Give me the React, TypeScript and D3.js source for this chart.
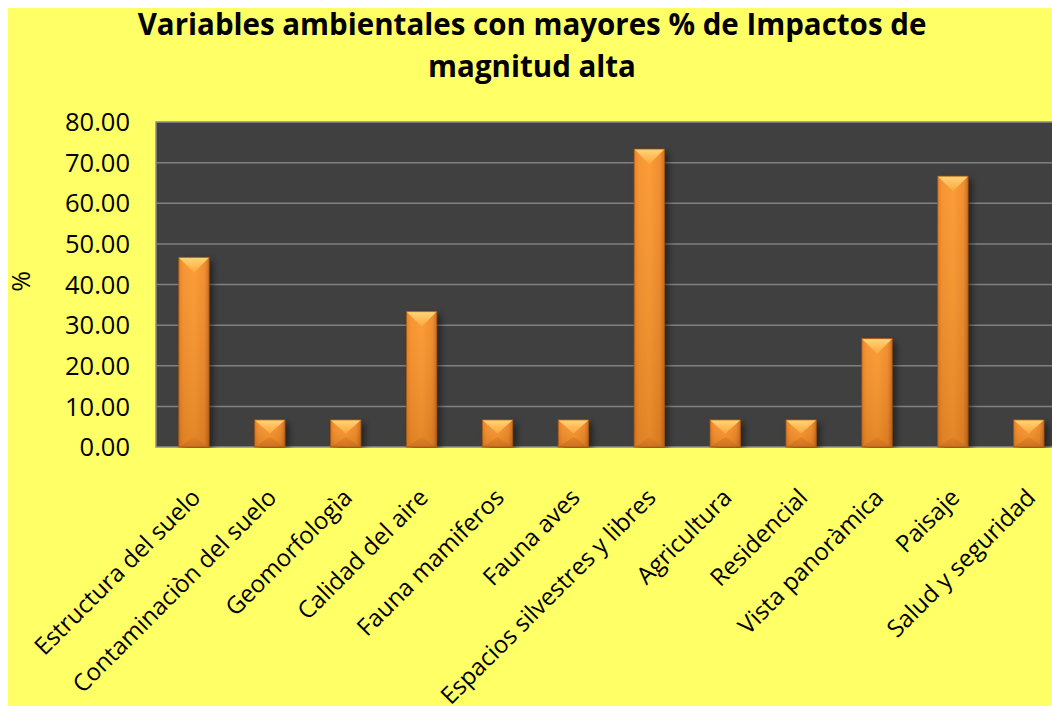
import React from 'react';
import * as d3 from 'd3';

const categories = [
  'Estructura del suelo',
  'Contaminaciòn del suelo',
  'Geomorfologìa',
  'Calidad del aire',
  'Fauna mamiferos',
  'Fauna aves',
  'Espacios silvestres y libres',
  'Agricultura',
  'Residencial',
  'Vista panoràmica',
  'Paisaje',
  'Salud y seguridad',
];
const values = [46.67, 6.67, 6.67, 33.33, 6.67, 6.67, 73.33, 6.67, 6.67, 26.67, 66.67, 6.67];
const yTicks = [0, 10, 20, 30, 40, 50, 60, 70, 80];
const titleLines = ['Variables ambientales con mayores % de Impactos de', 'magnitud alta'];

// the yellow chart area runs past the right and bottom edges of the window
const W = 1100;
const H = 760;
const plot = { left: 148, top: 114, bottom: 439, step: 75.9 };
const FONT = '"Open Sans", "Noto Sans", sans-serif';

const App: React.FC = () => {
  const x = d3
    .scaleBand<string>()
    .domain(categories)
    .range([plot.left, plot.left + plot.step * categories.length])
    .paddingInner(0.6)
    .paddingOuter(0.3);

  const y = d3.scaleLinear().domain([0, 80]).range([plot.bottom, plot.top]);
  const bw = x.bandwidth();
  const plotRight = plot.left + plot.step * categories.length;

  return (
    <div style={{ position: 'fixed', left: 8, top: 8, width: W, height: H, overflow: 'hidden', background: '#ffff66' }}>
      <svg width={W} height={H} style={{ display: 'block' }}>
        <defs>
          <linearGradient id="face" x1="0" x2="1" y1="0" y2="0">
            <stop offset="0" stopColor="#e47d1e" />
            <stop offset="0.15" stopColor="#f68f28" />
            <stop offset="0.5" stopColor="#fb972c" />
            <stop offset="0.85" stopColor="#f08824" />
            <stop offset="1" stopColor="#c8681a" />
          </linearGradient>
          <linearGradient id="faceV" x1="0" x2="0" y1="0" y2="1">
            <stop offset="0" stopColor="#ffffff" stopOpacity="0.06" />
            <stop offset="1" stopColor="#000000" stopOpacity="0.1" />
          </linearGradient>
          <linearGradient id="cap" x1="0" x2="0" y1="0" y2="1">
            <stop offset="0" stopColor="#ffd57a" />
            <stop offset="1" stopColor="#ffa63a" />
          </linearGradient>
          <linearGradient id="base" x1="0" x2="0" y1="0" y2="1">
            <stop offset="0" stopColor="#e07c22" />
            <stop offset="1" stopColor="#c86a1c" />
          </linearGradient>
          <filter id="shadow" x="-50%" y="-20%" width="200%" height="140%">
            <feGaussianBlur stdDeviation="3" />
          </filter>
          <clipPath id="plotClip">
            <rect x={plot.left} y={plot.top - 1} width={plotRight - plot.left} height={plot.bottom - plot.top + 2} />
          </clipPath>
        </defs>

        <rect x={0} y={0} width={W} height={H} fill="#ffff66" />

        {titleLines.map((t, i) => (
          <text
            key={t}
            x={524}
            y={27 + i * 42}
            textAnchor="middle"
            fontFamily={FONT}
            fontWeight="bold"
            fontSize={29.5}
            fill="#000"
          >
            {t}
          </text>
        ))}

        <rect
          x={plot.left}
          y={plot.top}
          width={plotRight - plot.left}
          height={plot.bottom - plot.top}
          fill="#404040"
          stroke="#8c8c8c"
          strokeWidth={1.5}
        />

        {yTicks.map((t) => (
          <g key={t}>
            {t > 0 && t < 80 && (
              <line x1={plot.left} x2={plotRight} y1={y(t)} y2={y(t)} stroke="#808080" strokeWidth={1.5} />
            )}
            <text
              x={122}
              y={y(t)}
              dy="0.36em"
              textAnchor="end"
              fontFamily={FONT}
              fontSize={25.5}
              fill="#000"
            >
              {t.toFixed(2)}
            </text>
          </g>
        ))}

        <text
          transform={`translate(13,${(plot.top + plot.bottom) / 2 - 3}) rotate(-90)`}
          textAnchor="middle"
          dy="0.35em"
          fontFamily={FONT}
          fontSize={25}
          fill="#000"
        >
          %
        </text>

        <g clipPath="url(#plotClip)">
          {categories.map((c, i) => {
            const bx = x(c) || 0;
            const by = y(values[i]);
            const bh = plot.bottom - by;
            const cap = Math.min(bw / 2, bh / 2);
            const baseH = Math.min(bw / 3, bh / 2);
            return (
              <g key={c}>
                <rect x={bx + 4} y={by + 3} width={bw} height={bh} fill="#000" opacity={0.45} filter="url(#shadow)" />
                <rect x={bx} y={by} width={bw} height={bh} fill="url(#face)" />
                <rect x={bx} y={by} width={bw} height={bh} fill="url(#faceV)" />
                <polygon
                  points={`${bx},${plot.bottom} ${bx + bw},${plot.bottom} ${bx + bw / 2},${plot.bottom - baseH}`}
                  fill="url(#base)"
                  opacity={0.7}
                />
                <polygon
                  points={`${bx},${by} ${bx + bw},${by} ${bx + bw / 2},${by + cap}`}
                  fill="url(#cap)"
                />
                <rect x={bx} y={by} width={bw} height={bh} fill="none" stroke="#a9560f" strokeWidth={1} opacity={0.8} />
              </g>
            );
          })}
        </g>

        {categories.map((c) => {
          const cx = (x(c) || 0) + bw / 2;
          return (
            <text
              key={c}
              transform={`translate(${cx + 8},${plot.bottom + 52}) rotate(-45)`}
              textAnchor="end"
              fontFamily={FONT}
              fontSize={24}
              fill="#000"
            >
              {c}
            </text>
          );
        })}
      </svg>
    </div>
  );
};

export default App;
